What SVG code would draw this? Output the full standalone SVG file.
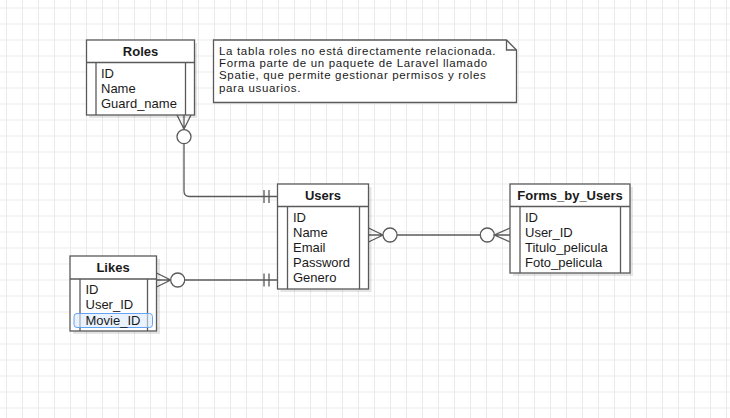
<svg xmlns="http://www.w3.org/2000/svg" width="730" height="418" viewBox="0 0 730 418">
<defs>
<pattern id="grid" patternUnits="userSpaceOnUse" x="6" y="7.5" width="16" height="16">
<path d="M0.5 0 V16 M0 0.5 H16" stroke="#ebebeb" stroke-width="1" fill="none"/>
</pattern>
<style>
.box{fill:#fff;stroke:#5a5a5a;stroke-width:1.3}
.shadow{fill:#000;opacity:0.1}
.ln{stroke:#5a5a5a;stroke-width:1.3;fill:none}
.hd{font-family:"Liberation Sans",Arial,sans-serif;font-size:13px;font-weight:bold;fill:#1a1a1a;text-anchor:middle}
.fd{font-family:"Liberation Sans",Arial,sans-serif;font-size:13px;fill:#1a1a1a}
.nt{font-family:"Liberation Sans",Arial,sans-serif;font-size:11.5px;letter-spacing:0.66px;fill:#1a1a1a}
.c{fill:#fff;stroke:#5a5a5a;stroke-width:1.3}
</style>
</defs>
<rect width="730" height="418" fill="#fff"/>
<rect width="730" height="418" fill="url(#grid)"/>

<g id="connectors">
<!-- Roles to Users -->
<path class="ln" d="M177 115 L184 129 L191 115 M184 115 V129"/>
<circle class="c" cx="184" cy="136.7" r="7"/>
<path class="ln" d="M184 143.7 V191 Q184 196.5 189.5 196.5 H277.5"/>
<path class="ln" d="M264 190 V203 M269 190 V203"/>
<!-- Likes to Users -->
<path class="ln" d="M156.5 273 L170.7 280 L156.5 287 M156.5 280 H170.7"/>
<circle class="c" cx="177.7" cy="280" r="7"/>
<path class="ln" d="M184.7 280 H277.5"/>
<path class="ln" d="M264 273.5 V286.5 M269 273.5 V286.5"/>
<!-- Users to Forms_by_Users -->
<path class="ln" d="M368.5 228 L383 235 L368.5 242 M368.5 235 H383"/>
<circle class="c" cx="390" cy="235" r="7"/>
<path class="ln" d="M397 235 H480.3"/>
<circle class="c" cx="487.3" cy="235" r="7"/>
<path class="ln" d="M510 228 L494.3 235 L510 242 M510 235 H494.3"/>
</g>

<g id="roles">
<rect class="shadow" x="89" y="43" width="108" height="75"/>
<rect class="box" x="86.5" y="40" width="108" height="75"/>
<path class="ln" d="M86.5 62.5 H194.5 M96 62.5 V115 M185.5 62.5 V115"/>
<text class="hd" x="140.5" y="55.5">Roles</text>
<text class="fd" x="101" y="78">ID</text>
<text class="fd" x="101" y="93">Name</text>
<text class="fd" x="101" y="108">Guard_name</text>
</g>

<g id="note">
<path class="box" d="M213.5 40 H506.5 L516.5 50 V102.5 H213.5 Z"/>
<path class="ln" d="M506.5 40 V50 H516.5"/>
<text class="nt" x="219" y="54.7">La tabla roles no está directamente relacionada.</text>
<text class="nt" x="219" y="67">Forma parte de un paquete de Laravel llamado</text>
<text class="nt" x="219" y="79.3">Spatie, que permite gestionar permisos y roles</text>
<text class="nt" x="219" y="91.6">para usuarios.</text>
</g>

<g id="users">
<rect class="shadow" x="280.5" y="187" width="91" height="105"/>
<rect class="box" x="277.5" y="184" width="91" height="105"/>
<path class="ln" d="M277.5 206.5 H368.5 M287.5 206.5 V289 M359.5 206.5 V289"/>
<text class="hd" x="323" y="199.5">Users</text>
<text class="fd" x="293" y="222">ID</text>
<text class="fd" x="293" y="237">Name</text>
<text class="fd" x="293" y="252">Email</text>
<text class="fd" x="293" y="267">Password</text>
<text class="fd" x="293" y="282">Genero</text>
</g>

<g id="forms_by_users">
<rect class="shadow" x="513" y="187" width="120" height="89"/>
<rect class="box" x="510" y="184" width="120" height="89"/>
<path class="ln" d="M510 206.5 H630 M520 206.5 V273 M620.5 206.5 V273"/>
<text class="hd" x="570" y="199.5">Forms_by_Users</text>
<text class="fd" x="525" y="222">ID</text>
<text class="fd" x="525" y="237">User_ID</text>
<text class="fd" x="525" y="252">Titulo_pelicula</text>
<text class="fd" x="525" y="267">Foto_pelicula</text>
</g>

<g id="likes">
<rect class="shadow" x="73" y="259" width="87" height="75"/>
<rect class="box" x="70" y="256" width="86.5" height="75"/>
<path class="ln" d="M70 279 H156.5 M80 279 V331 M147.5 279 V331"/>
<text class="hd" x="113" y="271.5">Likes</text>
<text class="fd" x="85.5" y="293.5">ID</text>
<text class="fd" x="85.5" y="309">User_ID</text>
<rect x="74" y="313.5" width="78.5" height="14" rx="3" fill="#dbe9fb" fill-opacity="0.6" stroke="#63a4f3" stroke-width="1"/>
<text class="fd" x="85.5" y="325">Movie_ID</text>
</g>
</svg>
